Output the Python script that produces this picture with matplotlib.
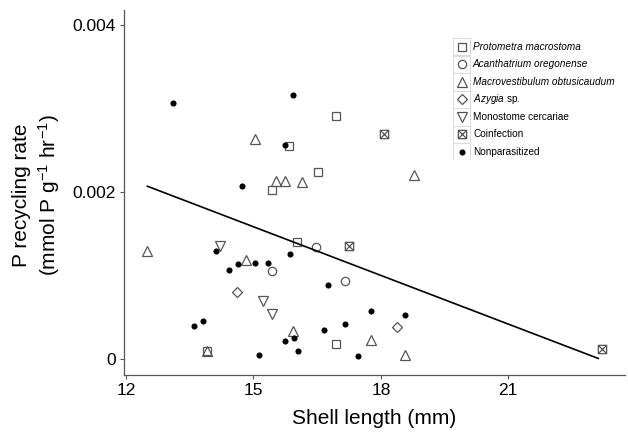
"""
P recycling rate vs shell length, by parasite infection (scatter + fitted line).
"""

import matplotlib

matplotlib.use("Agg")
import matplotlib.pyplot as plt  # noqa: E402
from matplotlib.patches import Rectangle  # noqa: E402
from matplotlib.path import Path  # noqa: E402

plt.rcParams["font.family"] = ["Liberation Sans", "DejaVu Sans"]
plt.rcParams["mathtext.fontset"] = "custom"
plt.rcParams["mathtext.rm"] = "Liberation Sans"
plt.rcParams["mathtext.it"] = "Liberation Sans:italic"

# --- data (shell length mm, P rate mmol P g-1 hr-1) ---
protometra_x = [16.94, 15.84, 16.51, 15.43, 16.03, 13.91, 16.95]
protometra_y = [0.00291, 0.00255, 0.00224, 0.00202, 0.00140, 0.00010, 0.00018]

acanthatrium_x = [16.47, 15.43, 17.16]
acanthatrium_y = [0.00134, 0.00106, 0.00094]

macro_x = [15.03, 15.52, 15.74, 16.14, 12.50, 14.83, 13.91, 15.94, 18.78, 17.76, 18.58]
macro_y = [0.00263, 0.00213, 0.00213, 0.00212, 0.00130, 0.00119, 0.00010,
           0.00034, 0.00221, 0.00023, 0.00005]

azygia_x = [14.62, 18.37]
azygia_y = [0.00081, 0.00039]

monostome_x = [14.21, 15.23, 15.44]
monostome_y = [0.00136, 0.00070, 0.00054]

coinf_x = [18.07, 17.26, 23.22]
coinf_y = [0.00269, 0.00136, 0.00012]

nonpar_x = [13.10, 15.94, 15.74, 14.73, 14.12, 15.85, 14.63, 15.03, 15.33, 14.42, 13.61,
            13.81, 15.74, 15.95, 16.05, 15.13, 16.76, 17.76, 18.58, 17.16, 16.65, 17.46]
nonpar_y = [0.00306, 0.00316, 0.00256, 0.00207, 0.00130, 0.00126, 0.00114, 0.00115,
            0.00115, 0.00107, 0.00040, 0.00046, 0.00022, 0.00026, 0.00010, 0.00005,
            0.00089, 0.00058, 0.00053, 0.00042, 0.00035, 0.00004]

fit_x = [12.50, 23.12]
fit_y = [0.00207, 0.00001]

x_ticks = [12, 15, 18, 21]
y_ticks = [0, 0.002, 0.004]
y_tick_labels = ["0", "0.002", "0.004"]

# square with both diagonals (ggplot shape 7)
SQUARE_X = Path(
    [(-0.5, -0.5), (0.5, -0.5), (0.5, 0.5), (-0.5, 0.5), (-0.5, -0.5),
     (-0.5, -0.5), (0.5, 0.5), (-0.5, 0.5), (0.5, -0.5)],
    [Path.MOVETO, Path.LINETO, Path.LINETO, Path.LINETO, Path.CLOSEPOLY,
     Path.MOVETO, Path.LINETO, Path.MOVETO, Path.LINETO],
)

EDGE = "#555555"
# label, x, y, marker, size, filled
GROUPS = [
    ("Protometra macrostoma", protometra_x, protometra_y, "s", 6.0, False),
    ("Acanthatrium oregonense", acanthatrium_x, acanthatrium_y, "o", 6.0, False),
    ("Macrovestibulum obtusicaudum", macro_x, macro_y, "^", 7.8, False),
    (r"$\it{Azygia}$ sp.", azygia_x, azygia_y, "D", 5.6, False),
    ("Monostome cercariae", monostome_x, monostome_y, "v", 7.8, False),
    ("Coinfection", coinf_x, coinf_y, SQUARE_X, 6.0, False),
    ("Nonparasitized", nonpar_x, nonpar_y, "o", 4.4, True),
]
ITALIC = {"Protometra macrostoma", "Acanthatrium oregonense", "Macrovestibulum obtusicaudum"}

W, H = 628, 434
fig = plt.figure(figsize=(W / 100, H / 100), dpi=100)
ax = fig.add_axes([124 / W, 1 - 375 / H, (625 - 124) / W, (375 - 10) / H])


def marker_kw(marker, size, filled):
    if filled:
        return dict(marker=marker, markersize=size, color="black", markeredgewidth=0)
    return dict(marker=marker, markersize=size, markerfacecolor="none",
                markeredgecolor=EDGE, markeredgewidth=0.9)


for label, xs, ys, marker, size, filled in GROUPS:
    ax.plot(xs, ys, linestyle="none", **marker_kw(marker, size, filled))

ax.plot(fit_x, fit_y, color="black", linewidth=1.2)

ax.set_xlim(11.95, 23.75)
ax.set_ylim(-0.000188, 0.004178)
ax.set_xticks(x_ticks)
ax.set_yticks(y_ticks)
ax.set_yticklabels(y_tick_labels)
ax.tick_params(direction="out", length=3, width=0.8, color=EDGE,
               labelsize=12.5, labelcolor="black", pad=3)
for side in ("top", "right"):
    ax.spines[side].set_visible(False)
for side in ("left", "bottom"):
    ax.spines[side].set_color(EDGE)
    ax.spines[side].set_linewidth(0.9)

fig.text(374 / W, 1 - 419 / H, "Shell length (mm)", ha="center", va="center", fontsize=15)
fig.text(37 / W, 1 - 195 / H, "P recycling rate\n(mmol P g$^{-1}$ hr$^{-1}$)",
         ha="center", va="center", rotation=90, fontsize=15, linespacing=1.25,
         multialignment="center")

# legend drawn by hand: ggplot-style key boxes, pixel coordinates
row_h = 17.5
key_w = 17.0
lx0, ly0 = 453.0, 38.0
lax = fig.add_axes([lx0 / W, 1 - (ly0 + row_h * len(GROUPS)) / H,
                    170 / W, row_h * len(GROUPS) / H])
lax.set_xlim(0, 170)
lax.set_ylim(row_h * len(GROUPS), 0)
lax.axis("off")
for i, (label, xs, ys, marker, size, filled) in enumerate(GROUPS):
    top = i * row_h
    lax.add_patch(Rectangle((0, top), key_w, row_h, facecolor="white",
                            edgecolor="#dcdcdc", linewidth=0.8))
    lax.plot([key_w / 2], [top + row_h / 2], linestyle="none",
             **marker_kw(marker, size, filled))
    lax.text(key_w + 3, top + row_h / 2, label, va="center", ha="left", fontsize=7.2,
             fontstyle="italic" if label in ITALIC else "normal")

fig.savefig("out.png", dpi=100, facecolor="white")
